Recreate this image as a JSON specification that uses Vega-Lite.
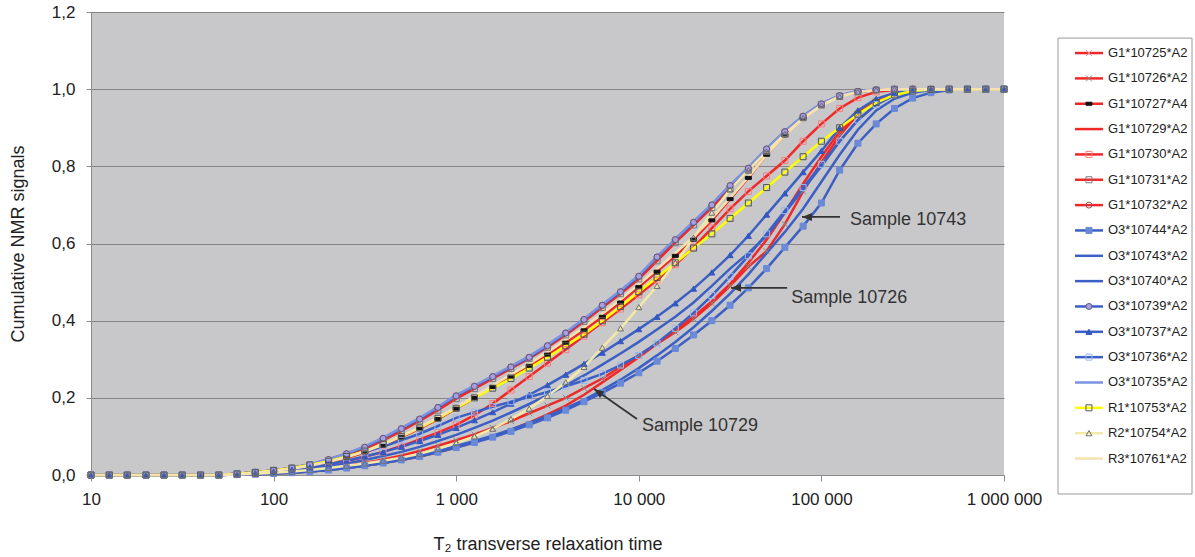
{
"$schema":"https://vega.github.io/schema/vega-lite/v6.json",
"padding":{"left":9,"top":3,"right":3,"bottom":3},
"autosize":{"type":"pad"},
"background":"white",
"config":{"font":"Liberation Sans","view":{"stroke":null}},
"spacing":54,
"bounds":"flush",
"datasets":{
"curves":[
{"t":10,"a":0,"b":0,"c":0,"d":0,"e":0,"f":0,"g":0,"h":0,"i":0,"j":0,"k":0,"l":0,"m":0,"n":0,"o":0,"p":0,"q":0},
{"t":12.6,"a":0,"b":0,"c":0,"d":0,"e":0,"f":0,"g":0,"h":0,"i":0,"j":0,"k":0,"l":0,"m":0,"n":0,"o":0,"p":0,"q":0},
{"t":15.8,"a":0,"b":0,"c":0,"d":0,"e":0,"f":0,"g":0,"h":0,"i":0,"j":0,"k":0,"l":0,"m":0,"n":0,"o":0,"p":0,"q":0},
{"t":20,"a":0,"b":0,"c":0,"d":0,"e":0,"f":0,"g":0,"h":0,"i":0,"j":0,"k":0,"l":0,"m":0,"n":0,"o":0,"p":0,"q":0},
{"t":25.1,"a":0,"b":0,"c":0,"d":0,"e":0,"f":0,"g":0,"h":0,"i":0,"j":0,"k":0,"l":0,"m":0,"n":0,"o":0,"p":0,"q":0},
{"t":31.6,"a":0,"b":0,"c":0,"d":0,"e":0,"f":0,"g":0,"h":0,"i":0,"j":0,"k":0,"l":0,"m":0,"n":0,"o":0,"p":0,"q":0},
{"t":39.8,"a":0,"b":0,"c":0,"d":0,"e":0,"f":0,"g":0,"h":0,"i":0,"j":0,"k":0,"l":0,"m":0,"n":0,"o":0,"p":0,"q":0},
{"t":50.1,"a":0,"b":0,"c":0,"d":0,"e":0,"f":0,"g":0,"h":0,"i":0,"j":0,"k":0,"l":0,"m":0,"n":0,"o":0,"p":0,"q":0},
{"t":63.1,"a":0.003,"b":0.001,"c":0.002,"d":0.001,"e":0.002,"f":0.003,"g":0.003,"h":0.001,"i":0.001,"j":0.002,"k":0.003,"l":0.002,"m":0.003,"n":0.003,"o":0.003,"p":0.001,"q":0.002},
{"t":79.4,"a":0.007,"b":0.003,"c":0.006,"d":0.002,"e":0.005,"f":0.006,"g":0.007,"h":0.002,"i":0.002,"j":0.004,"k":0.007,"l":0.005,"m":0.007,"n":0.007,"o":0.007,"p":0.003,"q":0.006},
{"t":100,"a":0.012,"b":0.006,"c":0.01,"d":0.004,"e":0.009,"f":0.011,"g":0.012,"h":0.004,"i":0.004,"j":0.007,"k":0.012,"l":0.009,"m":0.012,"n":0.012,"o":0.012,"p":0.006,"q":0.011},
{"t":126,"a":0.018,"b":0.009,"c":0.015,"d":0.006,"e":0.013,"f":0.017,"g":0.018,"h":0.006,"i":0.006,"j":0.011,"k":0.018,"l":0.014,"m":0.018,"n":0.019,"o":0.018,"p":0.009,"q":0.016},
{"t":158,"a":0.027,"b":0.013,"c":0.022,"d":0.009,"e":0.019,"f":0.025,"g":0.027,"h":0.009,"i":0.009,"j":0.016,"k":0.027,"l":0.02,"m":0.026,"n":0.028,"o":0.026,"p":0.013,"q":0.024},
{"t":200,"a":0.04,"b":0.018,"c":0.032,"d":0.013,"e":0.027,"f":0.037,"g":0.04,"h":0.013,"i":0.013,"j":0.022,"k":0.04,"l":0.028,"m":0.036,"n":0.041,"o":0.036,"p":0.018,"q":0.034},
{"t":251,"a":0.055,"b":0.024,"c":0.044,"d":0.018,"e":0.036,"f":0.051,"g":0.055,"h":0.018,"i":0.018,"j":0.03,"k":0.055,"l":0.037,"m":0.047,"n":0.056,"o":0.048,"p":0.024,"q":0.046},
{"t":316,"a":0.072,"b":0.031,"c":0.058,"d":0.024,"e":0.047,"f":0.068,"g":0.072,"h":0.024,"i":0.024,"j":0.039,"k":0.072,"l":0.048,"m":0.06,"n":0.074,"o":0.062,"p":0.03,"q":0.061},
{"t":398,"a":0.095,"b":0.04,"c":0.076,"d":0.031,"e":0.06,"f":0.09,"g":0.095,"h":0.031,"i":0.031,"j":0.049,"k":0.095,"l":0.06,"m":0.074,"n":0.097,"o":0.08,"p":0.037,"q":0.079},
{"t":501,"a":0.12,"b":0.05,"c":0.098,"d":0.039,"e":0.075,"f":0.114,"g":0.12,"h":0.039,"i":0.04,"j":0.06,"k":0.12,"l":0.073,"m":0.09,"n":0.122,"o":0.1,"p":0.045,"q":0.101},
{"t":631,"a":0.145,"b":0.062,"c":0.12,"d":0.048,"e":0.092,"f":0.14,"g":0.145,"h":0.048,"i":0.05,"j":0.073,"k":0.145,"l":0.088,"m":0.107,"n":0.148,"o":0.122,"p":0.055,"q":0.124},
{"t":794,"a":0.175,"b":0.076,"c":0.145,"d":0.059,"e":0.11,"f":0.168,"g":0.175,"h":0.059,"i":0.062,"j":0.088,"k":0.175,"l":0.104,"m":0.127,"n":0.177,"o":0.147,"p":0.068,"q":0.149},
{"t":1000,"a":0.205,"b":0.09,"c":0.172,"d":0.071,"e":0.13,"f":0.198,"g":0.205,"h":0.071,"i":0.075,"j":0.104,"k":0.205,"l":0.122,"m":0.148,"n":0.207,"o":0.173,"p":0.083,"q":0.176},
{"t":1259,"a":0.23,"b":0.105,"c":0.2,"d":0.085,"e":0.155,"f":0.224,"g":0.23,"h":0.084,"i":0.088,"j":0.122,"k":0.23,"l":0.142,"m":0.163,"n":0.232,"o":0.2,"p":0.1,"q":0.204},
{"t":1585,"a":0.255,"b":0.122,"c":0.228,"d":0.1,"e":0.185,"f":0.25,"g":0.255,"h":0.098,"i":0.102,"j":0.141,"k":0.255,"l":0.163,"m":0.177,"n":0.257,"o":0.225,"p":0.12,"q":0.232},
{"t":1995,"a":0.28,"b":0.14,"c":0.255,"d":0.117,"e":0.22,"f":0.276,"g":0.28,"h":0.113,"i":0.118,"j":0.162,"k":0.28,"l":0.185,"m":0.19,"n":0.282,"o":0.25,"p":0.145,"q":0.26},
{"t":2512,"a":0.305,"b":0.16,"c":0.283,"d":0.136,"e":0.255,"f":0.302,"g":0.305,"h":0.13,"i":0.135,"j":0.184,"k":0.305,"l":0.208,"m":0.202,"n":0.308,"o":0.277,"p":0.172,"q":0.288},
{"t":3162,"a":0.335,"b":0.18,"c":0.312,"d":0.157,"e":0.29,"f":0.331,"g":0.335,"h":0.148,"i":0.153,"j":0.207,"k":0.335,"l":0.233,"m":0.215,"n":0.338,"o":0.305,"p":0.205,"q":0.318},
{"t":3981,"a":0.368,"b":0.2,"c":0.343,"d":0.18,"e":0.325,"f":0.363,"g":0.368,"h":0.168,"i":0.173,"j":0.232,"k":0.368,"l":0.26,"m":0.23,"n":0.37,"o":0.335,"p":0.24,"q":0.35},
{"t":5012,"a":0.403,"b":0.225,"c":0.375,"d":0.208,"e":0.36,"f":0.398,"g":0.403,"h":0.19,"i":0.195,"j":0.258,"k":0.403,"l":0.288,"m":0.245,"n":0.405,"o":0.365,"p":0.28,"q":0.383},
{"t":6310,"a":0.44,"b":0.25,"c":0.41,"d":0.24,"e":0.395,"f":0.434,"g":0.44,"h":0.213,"i":0.22,"j":0.286,"k":0.44,"l":0.317,"m":0.262,"n":0.442,"o":0.4,"p":0.33,"q":0.418},
{"t":7943,"a":0.475,"b":0.28,"c":0.447,"d":0.272,"e":0.43,"f":0.47,"g":0.475,"h":0.238,"i":0.247,"j":0.315,"k":0.475,"l":0.347,"m":0.285,"n":0.478,"o":0.437,"p":0.38,"q":0.455},
{"t":10000,"a":0.515,"b":0.31,"c":0.487,"d":0.305,"e":0.467,"f":0.508,"g":0.515,"h":0.265,"i":0.277,"j":0.345,"k":0.515,"l":0.378,"m":0.31,"n":0.518,"o":0.475,"p":0.435,"q":0.494},
{"t":12589,"a":0.565,"b":0.34,"c":0.527,"d":0.34,"e":0.505,"f":0.555,"g":0.565,"h":0.295,"i":0.31,"j":0.377,"k":0.565,"l":0.41,"m":0.342,"n":0.566,"o":0.512,"p":0.49,"q":0.534},
{"t":15849,"a":0.61,"b":0.37,"c":0.568,"d":0.375,"e":0.545,"f":0.602,"g":0.61,"h":0.328,"i":0.345,"j":0.41,"k":0.61,"l":0.445,"m":0.38,"n":0.612,"o":0.55,"p":0.55,"q":0.575},
{"t":19953,"a":0.655,"b":0.405,"c":0.61,"d":0.41,"e":0.59,"f":0.648,"g":0.655,"h":0.363,"i":0.383,"j":0.447,"k":0.655,"l":0.483,"m":0.42,"n":0.657,"o":0.588,"p":0.615,"q":0.618},
{"t":25119,"a":0.7,"b":0.445,"c":0.66,"d":0.45,"e":0.64,"f":0.693,"g":0.7,"h":0.4,"i":0.425,"j":0.49,"k":0.7,"l":0.525,"m":0.465,"n":0.702,"o":0.625,"p":0.68,"q":0.665},
{"t":31623,"a":0.75,"b":0.49,"c":0.715,"d":0.495,"e":0.69,"f":0.742,"g":0.75,"h":0.44,"i":0.47,"j":0.535,"k":0.75,"l":0.57,"m":0.515,"n":0.752,"o":0.665,"p":0.74,"q":0.718},
{"t":39811,"a":0.795,"b":0.54,"c":0.77,"d":0.55,"e":0.735,"f":0.79,"g":0.795,"h":0.485,"i":0.52,"j":0.575,"k":0.795,"l":0.62,"m":0.568,"n":0.797,"o":0.705,"p":0.79,"q":0.772},
{"t":50119,"a":0.845,"b":0.58,"c":0.83,"d":0.61,"e":0.775,"f":0.84,"g":0.845,"h":0.535,"i":0.575,"j":0.62,"k":0.845,"l":0.675,"m":0.625,"n":0.846,"o":0.745,"p":0.838,"q":0.83},
{"t":63096,"a":0.89,"b":0.65,"c":0.88,"d":0.68,"e":0.815,"f":0.886,"g":0.89,"h":0.59,"i":0.63,"j":0.68,"k":0.89,"l":0.73,"m":0.685,"n":0.891,"o":0.785,"p":0.884,"q":0.88},
{"t":79433,"a":0.93,"b":0.735,"c":0.925,"d":0.755,"e":0.865,"f":0.927,"g":0.93,"h":0.645,"i":0.69,"j":0.74,"k":0.93,"l":0.785,"m":0.745,"n":0.931,"o":0.825,"p":0.925,"q":0.924},
{"t":100000,"a":0.962,"b":0.81,"c":0.96,"d":0.825,"e":0.91,"f":0.96,"g":0.962,"h":0.705,"i":0.76,"j":0.8,"k":0.962,"l":0.84,"m":0.805,"n":0.963,"o":0.865,"p":0.958,"q":0.958},
{"t":125893,"a":0.983,"b":0.88,"c":0.983,"d":0.89,"e":0.95,"f":0.982,"g":0.983,"h":0.79,"i":0.83,"j":0.865,"k":0.983,"l":0.9,"m":0.865,"n":0.984,"o":0.9,"p":0.98,"q":0.982},
{"t":158489,"a":0.994,"b":0.935,"c":0.994,"d":0.94,"e":0.978,"f":0.993,"g":0.994,"h":0.86,"i":0.895,"j":0.92,"k":0.994,"l":0.945,"m":0.92,"n":0.995,"o":0.935,"p":0.993,"q":0.993},
{"t":199526,"a":0.998,"b":0.97,"c":0.998,"d":0.972,"e":0.993,"f":0.998,"g":0.998,"h":0.91,"i":0.945,"j":0.96,"k":0.998,"l":0.975,"m":0.96,"n":0.999,"o":0.965,"p":0.998,"q":0.998},
{"t":251189,"a":1,"b":0.99,"c":1,"d":0.99,"e":0.998,"f":1,"g":1,"h":0.95,"i":0.975,"j":0.985,"k":1,"l":0.99,"m":0.985,"n":1,"o":0.985,"p":1,"q":1},
{"t":316228,"a":1,"b":0.997,"c":1,"d":0.997,"e":1,"f":1,"g":1,"h":0.977,"i":0.991,"j":0.996,"k":1,"l":0.997,"m":0.996,"n":1,"o":0.995,"p":1,"q":1},
{"t":398107,"a":1,"b":1,"c":1,"d":1,"e":1,"f":1,"g":1,"h":0.991,"i":0.998,"j":1,"k":1,"l":1,"m":1,"n":1,"o":0.999,"p":1,"q":1},
{"t":501187,"a":1,"b":1,"c":1,"d":1,"e":1,"f":1,"g":1,"h":0.998,"i":1,"j":1,"k":1,"l":1,"m":1,"n":1,"o":1,"p":1,"q":1},
{"t":630957,"a":1,"b":1,"c":1,"d":1,"e":1,"f":1,"g":1,"h":1,"i":1,"j":1,"k":1,"l":1,"m":1,"n":1,"o":1,"p":1,"q":1},
{"t":794328,"a":1,"b":1,"c":1,"d":1,"e":1,"f":1,"g":1,"h":1,"i":1,"j":1,"k":1,"l":1,"m":1,"n":1,"o":1,"p":1,"q":1},
{"t":1000000,"a":1,"b":1,"c":1,"d":1,"e":1,"f":1,"g":1,"h":1,"i":1,"j":1,"k":1,"l":1,"m":1,"n":1,"o":1,"p":1,"q":1}
],
"names":[
{"key":"a","series":"G1*10725*A2","idx":1},
{"key":"b","series":"G1*10726*A2","idx":2},
{"key":"c","series":"G1*10727*A4","idx":3},
{"key":"d","series":"G1*10729*A2","idx":4},
{"key":"e","series":"G1*10730*A2","idx":5},
{"key":"f","series":"G1*10731*A2","idx":6},
{"key":"g","series":"G1*10732*A2","idx":7},
{"key":"h","series":"O3*10744*A2","idx":8},
{"key":"i","series":"O3*10743*A2","idx":9},
{"key":"j","series":"O3*10740*A2","idx":10},
{"key":"k","series":"O3*10739*A2","idx":11},
{"key":"l","series":"O3*10737*A2","idx":12},
{"key":"m","series":"O3*10736*A2","idx":13},
{"key":"n","series":"O3*10735*A2","idx":14},
{"key":"o","series":"R1*10753*A2","idx":15},
{"key":"p","series":"R2*10754*A2","idx":16},
{"key":"q","series":"R3*10761*A2","idx":17}
],
"arrows":[
{"label":"Sample 10743","t":78300,"y":0.669,"t2":126500,"y2":0.669},
{"label":"Sample 10726","t":32000,"y":0.485,"t2":64900,"y2":0.485},
{"label":"Sample 10729","t":5690,"y":0.223,"t2":9770,"y2":0.145}
],
"notes":[
{"label":"Sample 10743","t":143600,"y":0.661},
{"label":"Sample 10726","t":68300,"y":0.459},
{"label":"Sample 10729","t":10400,"y":0.127}
]
},
"hconcat":[
{
"width":913,"height":463,
"view":{"fill":"#c8c8ca","stroke":null},
"layer":[
{"data":{"name":"curves"},
"transform":[{"fold":["a","b","c","d","e","f","g","h","i","j","k","l","m","n","o","p","q"],"as":["key","value"]}],
"mark":{"type":"line"},
"encoding":{
"x":{"field":"t","type":"quantitative","scale":{"type":"log","domain":[10,1000000]},
"axis":{"values":[10,100,1000,10000,100000,1000000],"labelExpr":"replace(replace(format(datum.value,','),',',' '),',',' ')","grid":false,"labelFlush":false,"labelFontSize":17,"labelColor":"#222","labelPadding":10,"tickSize":6,"tickColor":"#8c8c8c","domainColor":"#8c8c8c","title":"T₂ transverse relaxation time","titleFontSize":18,"titleFontWeight":"normal","titleColor":"#222","titlePadding":28}},
"y":{"field":"value","type":"quantitative","scale":{"domain":[0,1.2],"nice":false},
"axis":{"values":[0,0.2,0.4,0.6,0.8,1,1.2],"labelExpr":"replace(format(datum.value,'.1f'),'.',',')","title":"Cumulative NMR signals","titleFontSize":18,"titleFontWeight":"normal","titleColor":"#222","titlePadding":24,"labelFontSize":17,"labelColor":"#222","labelPadding":11,"tickSize":5,"tickColor":"#8c8c8c","domainColor":"#8c8c8c","grid":true,"gridColor":"#858585","gridWidth":1}},
"color":{"field":"key","type":"nominal","legend":null,"scale":{"domain":["a","b","c","d","e","f","g","h","i","j","k","l","m","n","o","p","q"],"range":["#f02828","#f02828","#f02828","#f02828","#f02828","#f02828","#f02828","#3b5fc4","#3b5fc4","#3b5fc4","#3b5fc4","#3b5fc4","#3b5fc4","#7b93e0","#ffff00","#f2e9a8","#f5e2b0"]}},
"strokeWidth":{"field":"key","type":"ordinal","legend":null,"scale":{"domain":["a","b","c","d","e","f","g","h","i","j","k","l","m","n","o","p","q"],"range":[2.5,2.5,2.5,2.5,2.5,2.5,2.5,2.5,3,2.5,2.5,2.5,2.5,1,2.5,1,1]}}
}},
{"data":{"name":"curves"},
"transform":[{"fold":["a","b","c","d","e","f","g","h","i","j","k","l","m","n","o","p","q"],"as":["key","value"]},{"filter":{"field":"key","oneOf":["a","b","c","e","f","g","h","k","l","m","o","p"]}}],
"mark":{"type":"point","strokeWidth":1,"opacity":1},
"encoding":{
"x":{"field":"t","type":"quantitative"},
"y":{"field":"value","type":"quantitative"},
"shape":{"field":"key","type":"nominal","legend":null,"scale":{"domain":["a","b","c","e","f","g","h","k","l","m","o","p"],"range":["M-1,-1L1,1M-1,1L1,-1","M-1,-1L1,1M-1,1L1,-1","M-1,-0.5L1,-0.5L1,0.5L-1,0.5Z","square","square","circle","square","circle","triangle-up","square","square","triangle-up"]}},
"fill":{"field":"key","type":"nominal","legend":null,"scale":{"domain":["a","b","c","e","f","g","h","k","l","m","o","p"],"range":["transparent","transparent","#111111","transparent","transparent","transparent","#6a8ad8","#a99ee0","#3558c0","transparent","transparent","transparent"]}},
"stroke":{"field":"key","type":"nominal","legend":null,"scale":{"domain":["a","b","c","e","f","g","h","k","l","m","o","p"],"range":["#ff8f8f","#8a8a8a","#111111","#ff7a7a","#7a7a7a","#8a5a5a","#6a8ad8","#5a5a8a","#3558c0","#9cb8f0","#555555","#707070"]}},
"size":{"field":"key","type":"ordinal","legend":null,"scale":{"domain":["a","b","c","e","f","g","h","k","l","m","o","p"],"range":[36,36,30,32,32,18,12,22,16,32,32,32]}}
}},
{"data":{"name":"arrows"},
"mark":{"type":"rule","color":"#333333","strokeWidth":1.8},
"encoding":{"x":{"field":"t","type":"quantitative"},"y":{"field":"y","type":"quantitative"},"x2":{"field":"t2"},"y2":{"field":"y2"}}},
{"data":{"name":"arrows"},
"transform":[{"filter":{"field":"label","oneOf":["Sample 10743","Sample 10726"]}}],
"mark":{"type":"point","shape":"M0,0L1,-0.4L1,0.4Z","size":400,"filled":true,"color":"#333333","opacity":1},
"encoding":{"x":{"field":"t","type":"quantitative"},"y":{"field":"y","type":"quantitative"}}},
{"data":{"name":"arrows"},
"transform":[{"filter":{"field":"label","equal":"Sample 10729"}}],
"mark":{"type":"point","shape":"M0,0L1,-0.4L1,0.4Z","size":400,"filled":true,"color":"#333333","opacity":1,"angle":35},
"encoding":{"x":{"field":"t","type":"quantitative"},"y":{"field":"y","type":"quantitative"}}},
{"data":{"name":"notes"},
"mark":{"type":"text","align":"left","baseline":"middle","fontSize":18,"color":"#333333"},
"encoding":{"x":{"field":"t","type":"quantitative"},"y":{"field":"y","type":"quantitative"},"text":{"field":"label"}}}
]
},
{
"width":134,"height":482,
"view":{"stroke":null},
"layer":[
{"data":{"values":[{}]},
"mark":{"type":"rect","fill":"white","stroke":"#9a9a9a","strokeWidth":1},
"encoding":{"x":{"datum":0,"type":"quantitative","scale":{"domain":[0,1],"nice":false,"zero":false},"axis":null},"x2":{"datum":1},
"y":{"datum":0.41,"type":"quantitative","scale":{"domain":[-0.62,18.4],"nice":false,"zero":false,"reverse":true},"axis":null},"y2":{"datum":18.4}}},
{"data":{"name":"names"},
"mark":{"type":"rule"},
"encoding":{"x":{"datum":0.127,"type":"quantitative"},"x2":{"datum":0.336},"y":{"field":"idx","type":"quantitative"},
"color":{"field":"key","type":"nominal","legend":null,"scale":{"domain":["a","b","c","d","e","f","g","h","i","j","k","l","m","n","o","p","q"],"range":["#f02828","#f02828","#f02828","#f02828","#f02828","#f02828","#f02828","#3b5fc4","#3b5fc4","#3b5fc4","#3b5fc4","#3b5fc4","#3b5fc4","#7b93e0","#ffff00","#f2e9a8","#f5e2b0"]}},
"strokeWidth":{"field":"key","type":"ordinal","legend":null,"scale":{"domain":["a","b","c","d","e","f","g","h","i","j","k","l","m","n","o","p","q"],"range":[3,3,3,3,3,3,3,3,3,3,3,3,3,1,3,1,1]}}}},
{"data":{"name":"names"},
"transform":[{"filter":{"field":"key","oneOf":["a","b","c","e","f","g","h","k","l","m","o","p"]}}],
"mark":{"type":"point","strokeWidth":1,"opacity":1},
"encoding":{"x":{"datum":0.231,"type":"quantitative"},"y":{"field":"idx","type":"quantitative"},
"shape":{"field":"key","type":"nominal","legend":null,"scale":{"domain":["a","b","c","e","f","g","h","k","l","m","o","p"],"range":["M-1,-1L1,1M-1,1L1,-1","M-1,-1L1,1M-1,1L1,-1","M-1,-0.5L1,-0.5L1,0.5L-1,0.5Z","square","square","circle","square","circle","triangle-up","square","square","triangle-up"]}},
"fill":{"field":"key","type":"nominal","legend":null,"scale":{"domain":["a","b","c","e","f","g","h","k","l","m","o","p"],"range":["transparent","transparent","#111111","transparent","transparent","transparent","#6a8ad8","#a99ee0","#3558c0","transparent","transparent","transparent"]}},
"stroke":{"field":"key","type":"nominal","legend":null,"scale":{"domain":["a","b","c","e","f","g","h","k","l","m","o","p"],"range":["#ff8f8f","#8a8a8a","#111111","#ff7a7a","#7a7a7a","#8a5a5a","#6a8ad8","#5a5a8a","#3558c0","#9cb8f0","#555555","#707070"]}},
"size":{"field":"key","type":"ordinal","legend":null,"scale":{"domain":["a","b","c","e","f","g","h","k","l","m","o","p"],"range":[36,36,30,32,32,18,12,22,16,32,32,32]}}}},
{"data":{"name":"names"},
"mark":{"type":"text","align":"left","baseline":"middle","fontSize":13,"color":"#222222"},
"encoding":{"x":{"datum":0.373,"type":"quantitative"},"y":{"field":"idx","type":"quantitative"},"text":{"field":"series"}}}
]
}
]
}
